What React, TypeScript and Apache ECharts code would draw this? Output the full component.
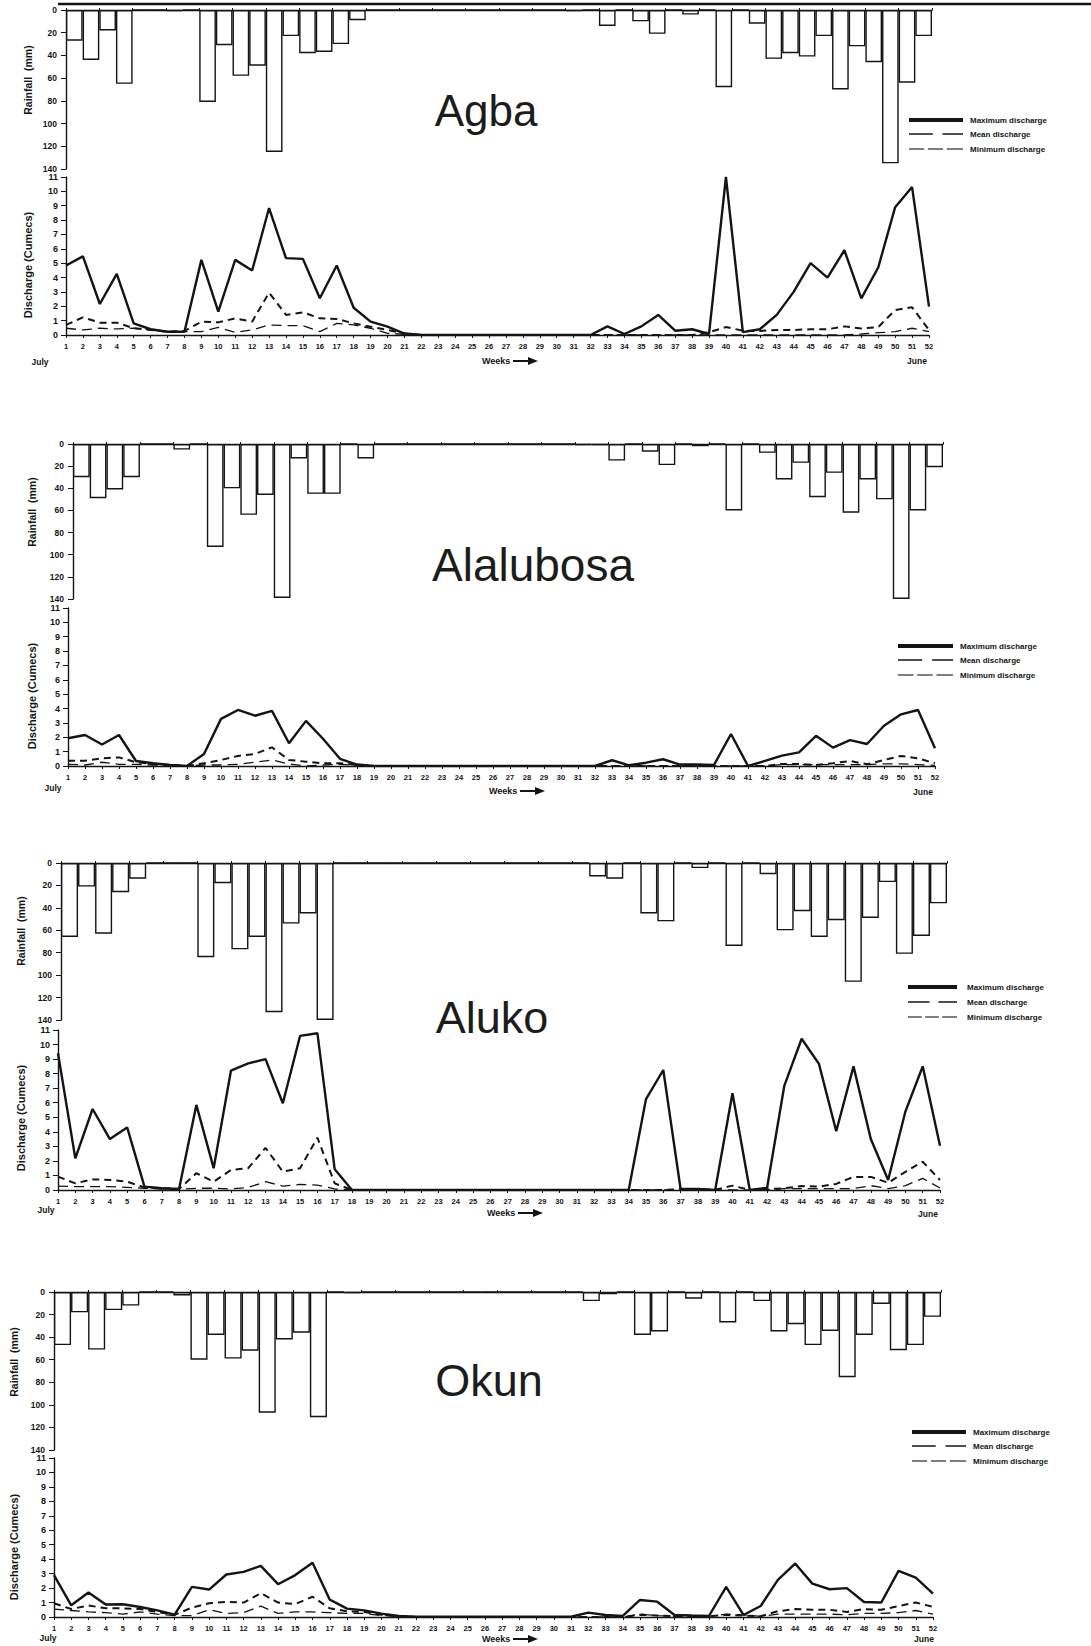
import React, { useEffect, useRef } from "react";
import * as echarts from "echarts";

const weeks = ["1","2","3","4","5","6","7","8","9","10","11","12","13","14","15","16","17","18","19","20","21","22","23","24","25","26","27","28","29","30","31","32","33","34","35","36","37","38","39","40","41","42","43","44","45","46","47","48","49","50","51","52"];

// ---- Agba ----
const agbaRain = [27,44,18,65,0,0,1,0,81,31,58,49,125,23,38,37,30,9,0,0,0,0,0,0,0,0,0,0,0,0,1,0,14,0,10,21,0,4,0,68,0,12,43,38,41,23,70,32,46,135,64,23];
const agbaMax = [4.84,5.47,2.16,4.26,0.81,0.4,0.23,0.23,5.23,1.63,5.23,4.49,8.84,5.35,5.3,2.56,4.84,1.9,0.93,0.58,0.1,0,0,0,0,0,0,0,0,0,0,0,0.6,0.07,0.6,1.4,0.3,0.4,0.07,11.0,0.2,0.4,1.4,3.0,5.0,4.0,5.9,2.55,4.7,8.9,10.3,1.97];
const agbaMean = [0.7,1.23,0.86,0.86,0.47,0.35,0.23,0.28,0.93,0.88,1.16,0.93,2.95,1.4,1.58,1.16,1.12,0.81,0.58,0.35,0.1,0,0,0,0,0,0,0,0,0,0,0,0,0,0,0,0,0,0.2,0.55,0.3,0.28,0.35,0.35,0.4,0.4,0.6,0.45,0.55,1.74,1.93,0.35];
const agbaMin = [0.47,0.35,0.47,0.42,0.47,0.35,0.23,0.23,0.23,0.53,0.19,0.35,0.7,0.65,0.65,0.23,0.81,0.7,0.47,0.12,0.05,0,0,0,0,0,0,0,0,0,0,0,0,0,0,0,0,0,0,0,0,0,0,0,0,0,0,0.07,0.16,0.23,0.47,0.23];

// ---- Alalubosa ----
const alalubosaRain = [30,49,41,30,0,0,5,0,93,40,64,46,139,13,45,45,0,13,0,0,0,0,0,0,0,0,0,0,0,0,1,1,15,0,7,19,0,2,0,60,0,8,32,17,48,26,62,32,50,140,60,21];
const alalubosaMax = [1.93,2.16,1.5,2.16,0.35,0.19,0.07,0,0.84,3.28,3.9,3.5,3.84,1.58,3.14,1.9,0.5,0.1,0,0,0,0,0,0,0,0,0,0,0,0,0,0,0.4,0.05,0.23,0.47,0.1,0.1,0.07,2.23,0,0.35,0.72,0.95,2.1,1.28,1.8,1.53,2.8,3.6,3.9,1.23];
const alalubosaMean = [0.37,0.37,0.53,0.6,0.26,0.14,0.07,0,0.19,0.42,0.7,0.84,1.3,0.42,0.3,0.19,0.19,0.07,0,0,0,0,0,0,0,0,0,0,0,0,0,0,0,0,0,0,0,0,0,0,0,0,0.14,0.14,0.07,0.19,0.35,0.12,0.42,0.7,0.53,0.19];
const alalubosaMin = [0.12,0.07,0.26,0.12,0.12,0.07,0.02,0,0.07,0.07,0.12,0.26,0.42,0.14,0,0.07,0.12,0.05,0,0,0,0,0,0,0,0,0,0,0,0,0,0,0,0,0,0,0,0,0,0,0,0,0.1,0.1,0.1,0.1,0.1,0.1,0.15,0.15,0.1,0.05];

// ---- Aluko ----
const alukoRain = [66,21,63,26,14,0,0,0,84,18,77,66,133,54,45,140,0,0,0,0,0,0,0,0,0,0,0,0,0,0,0,12,14,0,45,52,0,4.5,0,74,0,10,60,43,66,51,106,49,17,81,65,36];
const alukoMax = [9.4,2.18,5.57,3.5,4.3,0.23,0.12,0.07,5.85,1.5,8.2,8.7,9.0,5.96,10.6,10.78,1.42,0,0,0,0,0,0,0,0,0,0,0,0,0,0,0,0,0,6.25,8.25,0.07,0.07,0,6.65,0,0.14,7.18,10.4,8.67,4.04,8.5,3.5,0.69,5.4,8.5,3.05];
const alukoMean = [0.92,0.46,0.73,0.69,0.57,0.18,0.12,0.07,1.15,0.57,1.38,1.5,2.9,1.26,1.5,3.6,0.46,0,0,0,0,0,0,0,0,0,0,0,0,0,0,0,0,0,0,0,0.05,0.05,0.02,0.3,0,0.05,0.12,0.27,0.23,0.42,0.9,0.9,0.5,1.25,1.94,0.69];
const alukoMin = [0.27,0.23,0.23,0.23,0.18,0.12,0.07,0.05,0.12,0.12,0.07,0.18,0.57,0.27,0.38,0.34,0.07,0,0,0,0,0,0,0,0,0,0,0,0,0,0,0,0,0,0,0,0,0,0,0,0,0,0.1,0.1,0.1,0.1,0.1,0.3,0.1,0.3,0.8,0.14];

// ---- Okun ----
const okunRain = [47,18,51,16,12,0,0,3,60,38,59,52,107,42,36,111,0,1,0,0,0,0,0,0,0,0,0,0,0,0,0,8,2,0,38,35,0,6,0,27,0,8,35,28.5,47,34.5,75.5,38,10.6,51.6,47,22];
const okunMax = [2.9,0.81,1.69,0.86,0.88,0.69,0.46,0.16,2.08,1.9,2.94,3.12,3.54,2.27,2.9,3.75,1.2,0.58,0.46,0.23,0.07,0.02,0.02,0.02,0.02,0.02,0.02,0.02,0.02,0.02,0.02,0.3,0.14,0.07,1.18,1.06,0.14,0.1,0.07,2.08,0.14,0.76,2.57,3.7,2.31,1.92,2.0,1.04,1.0,3.19,2.73,1.62];
const okunMean = [0.95,0.55,0.8,0.6,0.6,0.55,0.35,0.15,0.65,0.95,1.05,1.0,1.65,1.0,0.9,1.4,0.6,0.4,0.35,0.15,0.05,0,0,0,0,0,0,0,0,0,0,0,0,0,0.15,0.1,0.05,0.05,0.05,0.15,0.1,0.05,0.4,0.55,0.5,0.5,0.35,0.55,0.5,0.75,1.0,0.7];
const okunMin = [0.55,0.45,0.35,0.3,0.2,0.35,0.2,0.1,0.1,0.5,0.25,0.3,0.75,0.25,0.35,0.35,0.3,0.25,0.25,0.1,0.05,0,0,0,0,0,0,0,0,0,0,0,0,0,0.2,0.1,0.05,0.05,0.05,0.2,0.15,0.05,0.2,0.2,0.2,0.2,0.15,0.25,0.25,0.3,0.45,0.2];

const stations = [
  { title: "Agba", rain: agbaRain, max: agbaMax, mean: agbaMean, min: agbaMin },
  { title: "Alalubosa", rain: alalubosaRain, max: alalubosaMax, mean: alalubosaMean, min: alalubosaMin },
  { title: "Aluko", rain: alukoRain, max: alukoMax, mean: alukoMean, min: alukoMin },
  { title: "Okun", rain: okunRain, max: okunMax, mean: okunMean, min: okunMin },
];

const legendNames = ["Maximum discharge", "Mean discharge", "Minimum discharge"];

// layout (pixels)
const layouts = [
  { rain: { l: 66, t: 10, r: 932, b: 169 }, dis: { l: 66, t: 177, r: 929, b: 335 }, title: { x: 486, y: 110, size: 44 }, nameX: 28, rainNameY: 80, disNameY: 265, legend: { x1: 909, x2: 963, tx: 970, y: [120, 134, 149] }, july: { x: 40, y: 362 }, wk: { x: 482, y: 361 }, june: { x: 917, y: 361 } },
  { rain: { l: 73, t: 444, r: 943, b: 599 }, dis: { l: 68, t: 608, r: 935, b: 766 }, title: { x: 533, y: 565, size: 46 }, nameX: 32, rainNameY: 512, disNameY: 696, legend: { x1: 898, x2: 953, tx: 960, y: [646, 660, 675] }, july: { x: 53, y: 788 }, wk: { x: 489, y: 791 }, june: { x: 923, y: 792 } },
  { rain: { l: 61, t: 863, r: 947, b: 1020 }, dis: { l: 58, t: 1030, r: 940, b: 1190 }, title: { x: 492, y: 1017, size: 45 }, nameX: 21, rainNameY: 931, disNameY: 1118, legend: { x1: 908, x2: 957, tx: 967, y: [987, 1002, 1017] }, july: { x: 46, y: 1210 }, wk: { x: 487, y: 1213 }, june: { x: 928, y: 1214 } },
  { rain: { l: 54, t: 1292, r: 941, b: 1450 }, dis: { l: 54, t: 1458, r: 933, b: 1617 }, title: { x: 489, y: 1380, size: 45 }, nameX: 14, rainNameY: 1362, disNameY: 1547, legend: { x1: 912, x2: 966, tx: 973, y: [1432, 1446, 1461] }, july: { x: 48, y: 1638 }, wk: { x: 482, y: 1639 }, june: { x: 924, y: 1639 } },
];

const INK = "#141414";
const FONT = '"Liberation Sans", Arial, Helvetica, sans-serif';

function txt(text: string, x: number, y: number, size: number, opts: any = {}) {
  const weight = opts.weight || "bold";
  return {
    type: "text",
    x,
    y,
    rotation: opts.rotation || 0,
    silent: true,
    style: {
      text,
      fill: opts.fill || INK,
      font: `${weight} ${size}px ${FONT}`,
      textAlign: opts.align || "left",
      align: opts.align || "left",
      textVerticalAlign: "middle",
      verticalAlign: "middle",
    },
  };
}

function seg(x1: number, y1: number, x2: number, y2: number, w: number) {
  return { type: "line", silent: true, shape: { x1, y1, x2, y2 }, style: { stroke: INK, lineWidth: w } };
}

function buildOption() {
  const grid: any[] = [];
  const xAxis: any[] = [];
  const yAxis: any[] = [];
  const series: any[] = [];
  const graphic: any[] = [];

  stations.forEach((st, i) => {
    const L = layouts[i];
    const g = grid.length;
    grid.push({ left: L.rain.l, top: L.rain.t, width: L.rain.r - L.rain.l, height: L.rain.b - L.rain.t });
    grid.push({ left: L.dis.l, top: L.dis.t, width: L.dis.r - L.dis.l, height: L.dis.b - L.dis.t });

    xAxis.push({
      gridIndex: g, type: "category", data: weeks, position: "top", boundaryGap: true,
      axisLine: { onZero: false, lineStyle: { color: INK, width: 1.4 } },
      axisTick: { show: true, length: 2, lineStyle: { color: INK } },
      axisLabel: { show: false }, splitLine: { show: false },
    });
    xAxis.push({
      gridIndex: g + 1, type: "category", data: weeks, position: "bottom", boundaryGap: false,
      axisLine: { onZero: false, lineStyle: { color: INK, width: 1.4 } },
      axisTick: { show: true, length: 3, lineStyle: { color: INK } },
      axisLabel: { interval: 0, fontSize: 7.5, fontWeight: "bold", color: INK, margin: 7, fontFamily: FONT },
      splitLine: { show: false },
    });
    yAxis.push({
      gridIndex: g, type: "value", inverse: true, min: 0, max: 140, interval: 20,
      axisLine: { show: true, lineStyle: { color: INK, width: 1.4 } },
      axisTick: { show: true, length: 5, lineStyle: { color: INK } },
      axisLabel: { fontSize: 8.5, fontWeight: "bold", color: INK, margin: 9, fontFamily: FONT },
      splitLine: { show: false },
    });
    yAxis.push({
      gridIndex: g + 1, type: "value", min: 0, max: 11, interval: 1,
      axisLine: { show: true, lineStyle: { color: INK, width: 1.4 } },
      axisTick: { show: true, length: 5, lineStyle: { color: INK } },
      axisLabel: { fontSize: 9, fontWeight: "bold", color: INK, margin: 8, fontFamily: FONT },
      splitLine: { show: false },
    });

    series.push({
      name: st.title + " rainfall", type: "bar", xAxisIndex: g, yAxisIndex: g, data: st.rain,
      barCategoryGap: "0%", silent: true,
      itemStyle: { color: "#ffffff", borderColor: INK, borderWidth: 1.4 },
    });
    series.push({
      name: legendNames[2], type: "line", xAxisIndex: g + 1, yAxisIndex: g + 1, data: st.min,
      symbol: "none", silent: true, z: 3,
      lineStyle: { color: INK, width: 1.3, type: [10, 6] },
    });
    series.push({
      name: legendNames[1], type: "line", xAxisIndex: g + 1, yAxisIndex: g + 1, data: st.mean,
      symbol: "none", silent: true, z: 4,
      lineStyle: { color: INK, width: 2, type: [7, 5] },
    });
    series.push({
      name: legendNames[0], type: "line", xAxisIndex: g + 1, yAxisIndex: g + 1, data: st.max,
      symbol: "none", silent: true, z: 5,
      lineStyle: { color: INK, width: 2.4 },
    });

    // station title
    graphic.push(txt(st.title, L.title.x, L.title.y, L.title.size, { weight: "normal", align: "center", fill: "#1c1c1c" }));
    // axis names
    graphic.push(txt("Rainfall  (mm)", L.nameX, L.rainNameY, 10.5, { align: "center", rotation: Math.PI / 2 }));
    graphic.push(txt("Discharge (Cumecs)", L.nameX, L.disNameY, 11, { align: "center", rotation: Math.PI / 2 }));
    // July / Weeks / June
    graphic.push(txt("July", L.july.x, L.july.y, 8.5, { align: "center" }));
    graphic.push(txt("June", L.june.x, L.june.y, 8.5, { align: "center" }));
    graphic.push(txt("Weeks", L.wk.x, L.wk.y, 9, { align: "left" }));
    const ax = L.wk.x + 31;
    graphic.push(seg(ax, L.wk.y, ax + 17, L.wk.y, 2));
    graphic.push({
      type: "polygon", silent: true,
      shape: { points: [[ax + 15, L.wk.y - 4], [ax + 25, L.wk.y], [ax + 15, L.wk.y + 4]] },
      style: { fill: INK },
    });
    // legend
    const lg = L.legend;
    const len = lg.x2 - lg.x1;
    graphic.push(seg(lg.x1, lg.y[0], lg.x2, lg.y[0], 4));
    graphic.push(seg(lg.x1, lg.y[1], lg.x1 + len * 0.44, lg.y[1], 1.5));
    graphic.push(seg(lg.x1 + len * 0.62, lg.y[1], lg.x2, lg.y[1], 1.5));
    graphic.push(seg(lg.x1, lg.y[2], lg.x1 + len * 0.28, lg.y[2], 1.1));
    graphic.push(seg(lg.x1 + len * 0.35, lg.y[2], lg.x1 + len * 0.63, lg.y[2], 1.1));
    graphic.push(seg(lg.x1 + len * 0.7, lg.y[2], lg.x2, lg.y[2], 1.1));
    legendNames.forEach((n, k) => graphic.push(txt(n, lg.tx, lg.y[k], 8, { align: "left" })));
  });

  // scanned page border line at the top
  graphic.push(seg(58, 4, 1091, 4, 2.5));

  return {
    animation: false,
    backgroundColor: "#ffffff",
    textStyle: { fontFamily: FONT },
    grid,
    xAxis,
    yAxis,
    series,
    graphic: { elements: graphic },
  };
}

export default function App() {
  const ref = useRef<HTMLDivElement>(null);
  useEffect(() => {
    document.body.style.margin = "0";
    if (!ref.current) return;
    const chart = echarts.init(ref.current, undefined, { renderer: "svg" });
    chart.setOption(buildOption() as any);
    return () => chart.dispose();
  }, []);
  return <div ref={ref} style={{ width: 1091, height: 1646, background: "#fff" }} />;
}
